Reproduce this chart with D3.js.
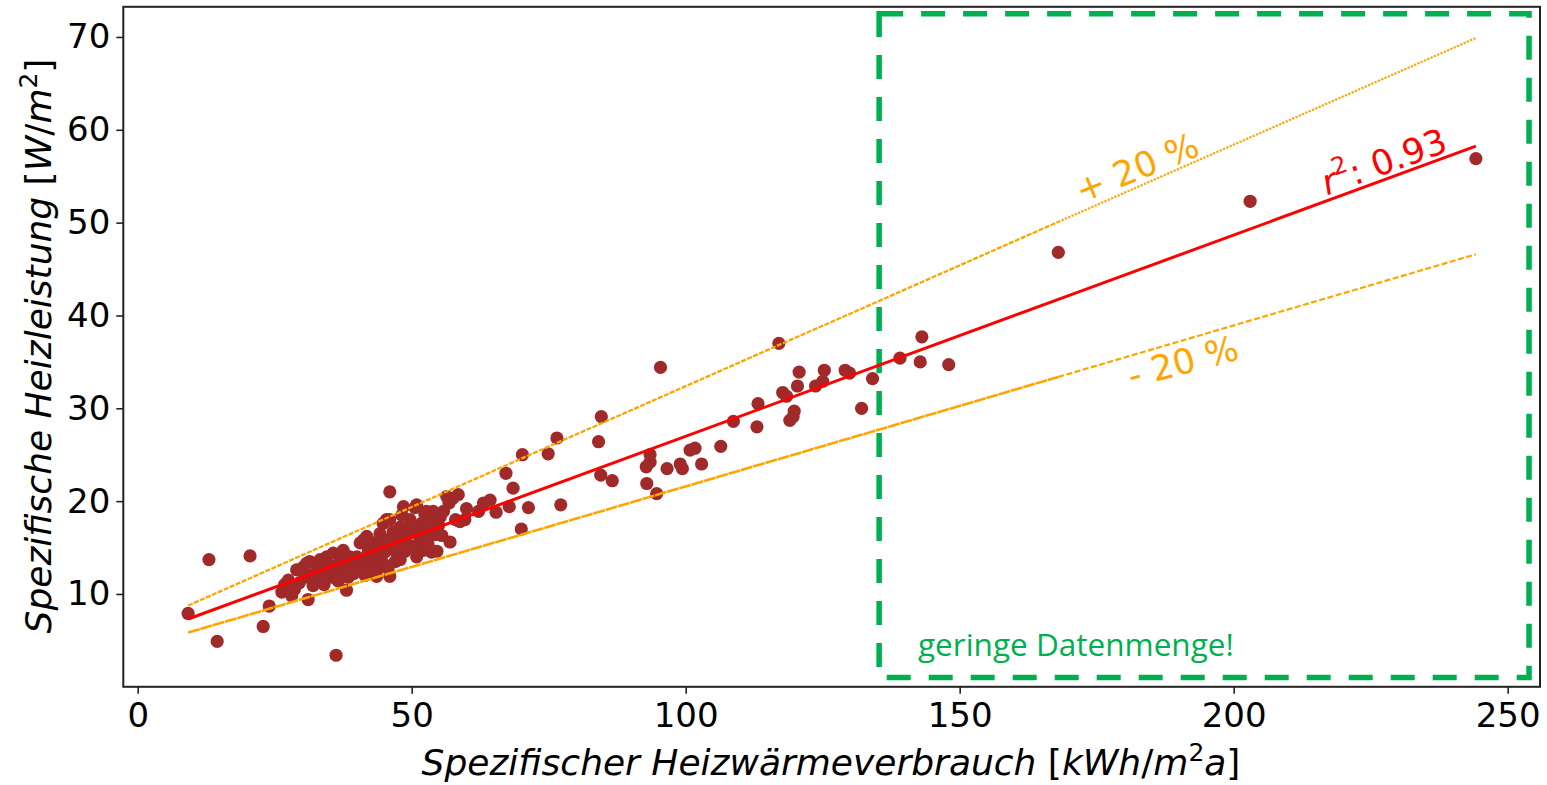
<!DOCTYPE html>
<html>
<head>
<meta charset="utf-8">
<script src="https://cdn.jsdelivr.net/npm/d3@7"></script>
<style>
  html, body { margin: 0; padding: 0; background: #fff; }
  svg { display: block; }
  text { font-family: "DejaVu Sans", sans-serif; }
</style>
</head>
<body>
<svg id="chart" width="1547" height="785"></svg>
<script>
// ---------------- DATA ----------------
const xTicks = [0, 50, 100, 150, 200, 250];
const yTicks = [10, 20, 30, 40, 50, 60, 70];

// scatter: specific heat consumption [kWh/m2a], specific heating load [W/m2]
const pointX = [
  9.2, 13.0, 14.5, 20.5, 22.9, 24.0, 36.2, 46.0,
  26.3, 26.8, 27.5, 28.1, 28.6, 29.0, 29.5, 30.2, 30.5, 30.8, 31.1, 31.4, 31.6, 32.0, 32.7, 33.0, 33.3, 33.6, 34.0, 34.5, 34.8, 35.2, 35.7, 35.9, 36.3, 36.6,
  37.0, 37.5, 37.8, 38.1, 38.4, 38.7, 39.0, 39.4, 39.8, 40.0, 40.3, 40.6, 40.9, 41.2, 41.5, 41.8, 41.8, 42.1, 42.4, 42.7, 43.0, 43.3, 43.6, 43.9, 44.2, 44.2, 44.5, 44.8, 44.8, 45.1,
  45.4, 45.4, 45.7, 46.0, 46.0, 46.3, 46.6, 47.0, 47.3, 47.6, 47.9, 47.9, 47.9, 48.2, 48.5, 48.5, 48.8, 49.1, 49.4, 49.7, 50.0, 50.3, 50.6, 50.9, 50.9, 51.2, 51.5, 51.8, 52.1, 52.1, 52.4, 52.7, 52.7, 53.0, 53.3, 53.6, 53.9, 54.2, 54.6, 54.9, 55.2, 55.5, 55.8, 56.4, 56.8,
  57.0, 57.5, 58.0, 58.5, 58.8, 59.7, 60.0, 62.2, 63.1, 64.3, 65.4, 67.2, 67.8, 68.5, 70.0, 70.2, 71.3, 74.9, 76.5, 77.2,
  84.1, 84.5, 84.6, 86.6, 92.8, 92.9, 93.5, 93.5, 94.7, 96.6, 99.0, 99.4, 100.8, 101.7, 95.4, 102.9, 106.4, 108.7, 113.0, 113.2,
  117.0, 117.7, 118.4, 119.0, 119.6, 119.8, 120.4, 120.7, 123.7, 125.0, 125.3, 129.1, 129.9, 132.1, 134.1, 139.1, 142.8, 143.1, 148.0,
  168.0, 203.0, 244.2
];
const pointY = [
  7.9, 13.7, 4.9, 14.1, 6.5, 8.7, 3.4, 21.0,
  10.2, 11.0, 11.5, 9.8, 10.5, 12.6, 11.2, 12.9, 11.8, 13.3, 9.4, 13.5, 12.0, 10.9, 12.6, 11.5, 13.7, 12.3, 11.0, 14.0, 12.8, 11.8, 14.4, 13.0, 12.2, 11.4,
  13.6, 14.7, 12.5, 10.4, 11.8, 14.0, 13.0, 12.2, 13.8, 14.0, 12.7, 15.5, 13.3, 15.8, 12.0, 13.7, 16.2, 14.6, 12.6, 15.0, 15.5, 13.2, 11.9, 14.2, 12.9, 16.5, 15.2, 13.3, 17.6, 14.5,
  15.8, 18.0, 12.8, 11.9, 18.0, 14.9, 16.7, 13.5, 14.4, 15.9, 17.2, 15.5, 13.7, 18.5, 16.2, 19.4, 14.6, 17.0, 15.3, 18.0, 16.6, 15.1, 19.3, 19.6, 14.0, 17.3, 15.8, 17.6, 14.7, 16.9, 18.6, 18.9, 16.5, 15.3, 17.7, 14.5, 18.9, 16.4, 14.6, 17.4, 18.3, 16.3, 18.9, 20.5, 19.8,
  15.6, 20.3, 18.0, 20.7, 17.8, 18.0, 19.2, 18.9, 19.8, 20.1, 18.8, 23.0, 19.4, 21.4, 17.0, 25.0, 19.3, 25.1, 26.8, 19.6,
  26.4, 22.8, 29.1, 22.2, 23.7, 21.9, 24.2, 25.0, 20.8, 23.5, 24.0, 23.5, 25.5, 25.7, 34.4, 24.0, 25.9, 28.6, 28.0, 30.5,
  37.0, 31.7, 31.3, 28.7, 29.1, 29.7, 32.4, 33.9, 32.4, 32.9, 34.1, 34.1, 33.8, 30.0, 33.2, 35.4, 35.0, 37.7, 34.7,
  46.8, 52.3, 56.9
];

// regression line (x, fitted y, +20 %, -20 %)
const fitX   = [9.2, 168.0, 244.2];
const fitY   = [7.30, 41.73, 58.24];
const upperY = [8.76, 50.08, 69.89];
const lowerY = [5.84, 33.38, 46.59];

// "little data" box
const boxX = [135.3, 253.9];
const boxY = [1.0, 72.5];

// ---------------- DRAW ----------------
const svg = d3.select("#chart");
const x = d3.scaleLinear().domain([-2.63, 255.9]).range([123.3, 1540]);
const y = d3.scaleLinear().domain([0, 73.25]).range([686.8, 6.8]);

const plot = svg.append("g");

// green box
plot.append("rect")
  .attr("x", x(boxX[0])).attr("y", y(boxY[1]))
  .attr("width", x(boxX[1]) - x(boxX[0]))
  .attr("height", y(boxY[0]) - y(boxY[1]))
  .attr("fill", "none").attr("stroke", "#00b050")
  .attr("stroke-width", 5.5).attr("stroke-dasharray", "24,18");

// points
plot.append("g").selectAll("circle")
  .data(pointX.map((v, i) => [v, pointY[i]]))
  .join("circle")
  .attr("cx", d => x(d[0])).attr("cy", d => y(d[1]))
  .attr("r", 6.6).attr("fill", "#a0292a");

const seg = (ys, i) => d3.line()([[x(fitX[i]), y(ys[i])], [x(fitX[i + 1]), y(ys[i + 1])]]);

// +/- 20% lines
plot.append("path").attr("d", seg(upperY, 0)).attr("stroke", "#ffa500").attr("stroke-width", 2.3)
  .attr("fill", "none").attr("stroke-dasharray", "5,1.5");
plot.append("path").attr("d", seg(upperY, 1)).attr("stroke", "#ffa500").attr("stroke-width", 2.2)
  .attr("fill", "none").attr("stroke-dasharray", "2.2,1.4");
plot.append("path").attr("d", seg(lowerY, 0)).attr("stroke", "#ffa500").attr("stroke-width", 2.6)
  .attr("fill", "none").attr("stroke-dasharray", "12,0.8");
plot.append("path").attr("d", seg(lowerY, 1)).attr("stroke", "#ffa500").attr("stroke-width", 2.2)
  .attr("fill", "none").attr("stroke-dasharray", "6,2.5");

// regression line
plot.append("path")
  .attr("d", d3.line().x(d => x(d[0])).y(d => y(d[1]))(fitX.map((v, i) => [v, fitY[i]])))
  .attr("stroke", "#ff0000").attr("stroke-width", 3).attr("fill", "none");

// frame
svg.append("rect").attr("x", 123.3).attr("y", 6.8).attr("width", 1540 - 123.3).attr("height", 686.8 - 6.8)
  .attr("fill", "none").attr("stroke", "#222").attr("stroke-width", 2);

// axes
const xAxis = svg.append("g").attr("transform", "translate(0,686.8)")
  .call(d3.axisBottom(x).tickValues(xTicks).tickSize(7).tickPadding(9).tickFormat(d3.format("d")));
const yAxis = svg.append("g").attr("transform", "translate(123.3,0)")
  .call(d3.axisLeft(y).tickValues(yTicks).tickSize(7).tickPadding(6).tickFormat(d3.format("d")));
[xAxis, yAxis].forEach(a => {
  a.select(".domain").remove();
  a.selectAll(".tick line").attr("stroke", "#222").attr("stroke-width", 1.6);
  a.selectAll(".tick text").attr("fill", "#000").style("font-size", "34px")
    .style("font-family", "'DejaVu Sans', sans-serif");
});

// axis labels
const xl = svg.append("text").attr("x", 831).attr("y", 775).attr("text-anchor", "middle")
  .style("font-size", "36px");
xl.append("tspan").style("font-style", "italic").text("Spezifischer Heizwärmeverbrauch ");
xl.append("tspan").text("[");
xl.append("tspan").style("font-style", "italic").text("kWh");
xl.append("tspan").text("/");
xl.append("tspan").style("font-style", "italic").text("m");
xl.append("tspan").attr("dy", -14).style("font-size", "25px").text("2");
xl.append("tspan").attr("dy", 14).style("font-style", "italic").text("a");
xl.append("tspan").text("]");

const yl = svg.append("text").attr("transform", "translate(51,346) rotate(-90)")
  .attr("text-anchor", "middle").style("font-size", "36px");
yl.append("tspan").style("font-style", "italic").text("Spezifische Heizleistung ");
yl.append("tspan").text("[");
yl.append("tspan").style("font-style", "italic").text("W");
yl.append("tspan").text("/");
yl.append("tspan").style("font-style", "italic").text("m");
yl.append("tspan").attr("dy", -14).style("font-size", "25px").text("2");
yl.append("tspan").attr("dy", 14).text("]");

// annotations
svg.append("text").attr("transform", "translate(1137,168) rotate(-22)")
  .attr("text-anchor", "middle").attr("dominant-baseline", "central")
  .attr("fill", "#ffa500").style("font-size", "35px").text("+ 20 %");
svg.append("text").attr("transform", "translate(1183,362) rotate(-15)")
  .attr("text-anchor", "middle").attr("dominant-baseline", "central")
  .attr("fill", "#ffa500").style("font-size", "35px").text("- 20 %");
const r2 = svg.append("text").attr("transform", "translate(1384,162) rotate(-20)")
  .attr("text-anchor", "middle").attr("dominant-baseline", "central")
  .attr("fill", "#ff0000").style("font-size", "35px");
r2.append("tspan").style("font-style", "italic").text("r");
r2.append("tspan").attr("dy", -12).style("font-size", "24px").text("2");
r2.append("tspan").attr("dy", 12).text(": 0.93");

svg.append("text").attr("x", 918).attr("y", 656)
  .attr("fill", "#00b050").style("font-family", "'Open Sans', sans-serif")
  .style("font-size", "31.5px").text("geringe Datenmenge!");
</script>
</body>
</html>
